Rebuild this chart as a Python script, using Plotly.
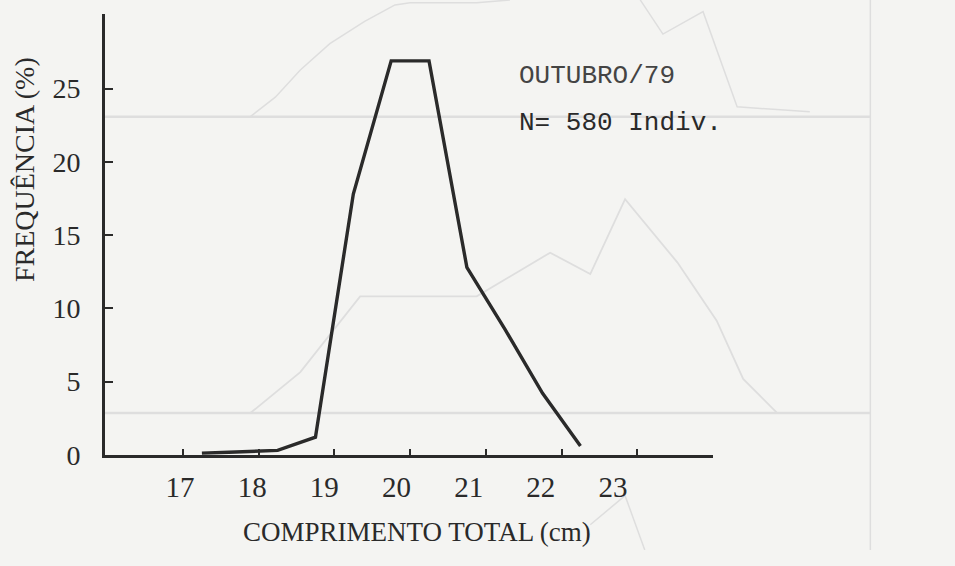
import plotly.graph_objects as go

# ---- main data (Outubro/79) ----
length_cm = [17.25, 17.75, 18.25, 18.75, 19.25, 19.75, 20.25, 20.75, 21.25, 21.75, 22.25]
freq_pct = [0.1, 0.2, 0.3, 1.2, 17.8, 26.9, 26.9, 12.8, 8.6, 4.2, 0.6]

x_ticks = [17, 18, 19, 20, 21, 22, 23]
x_tick_labels = ["17", "18", "19", "20", "21", "22", "23"]
y_ticks = [0, 5, 10, 15, 20, 25]
y_tick_labels = ["0", "5", "10", "15", "20", "25"]

title_month = "OUTUBRO/79"
title_n = "N= 580 Indiv."
x_title = "COMPRIMENTO TOTAL (cm)"
y_title = "FREQUÊNCIA (%)"

# ---- show-through from the reverse page (faint), in the same cm / % units ----
ghost_base_x = [15.97, 26.08]
ghost_base1_y = [23.09, 23.09]
ghost_base2_y = [2.85, 2.85]
ghost_vert_x = [26.08, 26.08]
ghost_vert_y = [-6.5, 31.06]
ghost_up_x = [17.89, 18.22, 18.55, 18.94, 19.40, 19.80, 20.0, 20.88, 21.32, None,
              23.04, 23.34, 23.87, 24.32, 25.28]
ghost_up_y = [23.09, 24.42, 26.28, 28.07, 29.6, 30.72, 30.86, 30.86, 31.06, None,
              31.06, 28.73, 30.26, 23.76, 23.42]
ghost_mid_x = [17.89, 18.55, 19.34, 20.88, 21.85, 22.38, 22.84, 23.53, 24.05, 24.40, 24.85]
ghost_mid_y = [2.85, 5.64, 10.82, 10.82, 13.80, 12.34, 17.45, 13.14, 9.16, 5.18, 2.85]
ghost_low_x = [22.38, 22.84, 23.10]
ghost_low_y = [-4.78, -2.79, -6.5]

W, H = 955, 566
ink = "#2a2a2a"
ghost = "#dedede"
serif = "Liberation Serif, Times New Roman, serif"
mono = "Liberation Mono, Courier New, monospace"

fig = go.Figure()

# ghost layer on the full-page axes (x, y)
for gx, gy, w in [(ghost_base_x, ghost_base1_y, 2.5), (ghost_base_x, ghost_base2_y, 2.5),
                  (ghost_vert_x, ghost_vert_y, 1.5), (ghost_up_x, ghost_up_y, 1.5),
                  (ghost_mid_x, ghost_mid_y, 1.8), (ghost_low_x, ghost_low_y, 1.5)]:
    fig.add_trace(go.Scatter(x=gx, y=gy, mode="lines", line=dict(color=ghost, width=w),
                             xaxis="x", yaxis="y", hoverinfo="skip", showlegend=False,
                             connectgaps=False))

# main polygon on x2/y2
fig.add_trace(go.Scatter(x=length_cm, y=freq_pct, mode="lines",
                         line=dict(color=ink, width=3.4),
                         xaxis="x2", yaxis="y2", showlegend=False, cliponaxis=False))

# invisible trace to carry the tick-label axis x3
fig.add_trace(go.Scatter(x=[x_ticks[0], x_ticks[-1]], y=[0, 0], mode="markers",
                         marker=dict(opacity=0), xaxis="x3", yaxis="y2",
                         hoverinfo="skip", showlegend=False))

x_dom = [105 / W, 713 / W]
y_dom = [1 - 468 / H, 1 - 14 / H]

fig.update_layout(
    width=W, height=H,
    margin=dict(l=0, r=0, t=0, b=0),
    paper_bgcolor="#f4f4f2",
    plot_bgcolor="rgba(0,0,0,0)",
    showlegend=False,
    xaxis=dict(domain=[0, 1], range=[14.583, 27.198], visible=False, fixedrange=True),
    yaxis=dict(domain=[0, 1], range=[-6.503, 31.055], visible=False, fixedrange=True),
    xaxis2=dict(domain=x_dom, anchor="y2", range=[15.970, 24.001],
                showline=True, linecolor=ink, linewidth=3, showgrid=False, zeroline=False,
                tickmode="array", tickvals=x_ticks, ticks="inside", ticklen=6,
                tickwidth=2, tickcolor=ink, showticklabels=False),
    xaxis3=dict(overlaying="x2", anchor="y2", side="bottom", range=[15.961, 24.386],
                showline=False, showgrid=False, zeroline=False, ticks="",
                tickmode="array", tickvals=x_ticks, ticktext=x_tick_labels,
                tickfont=dict(family=serif, size=29, color=ink), ticklabelstandoff=12),
    yaxis2=dict(domain=y_dom, anchor="x2", range=[0, 30.126],
                showline=True, linecolor=ink, linewidth=3, showgrid=False, zeroline=False,
                tickmode="array", tickvals=y_ticks, ticktext=y_tick_labels,
                ticks="inside", ticklen=8, tickwidth=2, tickcolor=ink,
                tickfont=dict(family=serif, size=28, color=ink), ticklabelstandoff=16),
    annotations=[
        dict(text=y_title, xref="paper", yref="paper", x=24 / W, y=1 - 175 / H,
             xanchor="center", yanchor="middle",
             textangle=-90, showarrow=False, font=dict(family=serif, size=28, color=ink)),
        dict(text=x_title, xref="paper", yref="paper", x=417 / W, y=1 - 547 / H,
             xanchor="center", yanchor="middle",
             showarrow=False, font=dict(family=serif, size=27, color=ink)),
        dict(text=title_month, xref="paper", yref="paper", x=517 / W, y=1 - 78 / H,
             xanchor="left", yanchor="middle", showarrow=False,
             font=dict(family=mono, size=26, color="#444444")),
        dict(text=title_n, xref="paper", yref="paper", x=517 / W, y=1 - 127 / H,
             xanchor="left", yanchor="middle", showarrow=False,
             font=dict(family=mono, size=26, color=ink)),
    ],
)

fig.write_html("out.html", config={"displayModeBar": False},
               post_script="document.body.style.margin='0';document.body.style.overflow='hidden';")
